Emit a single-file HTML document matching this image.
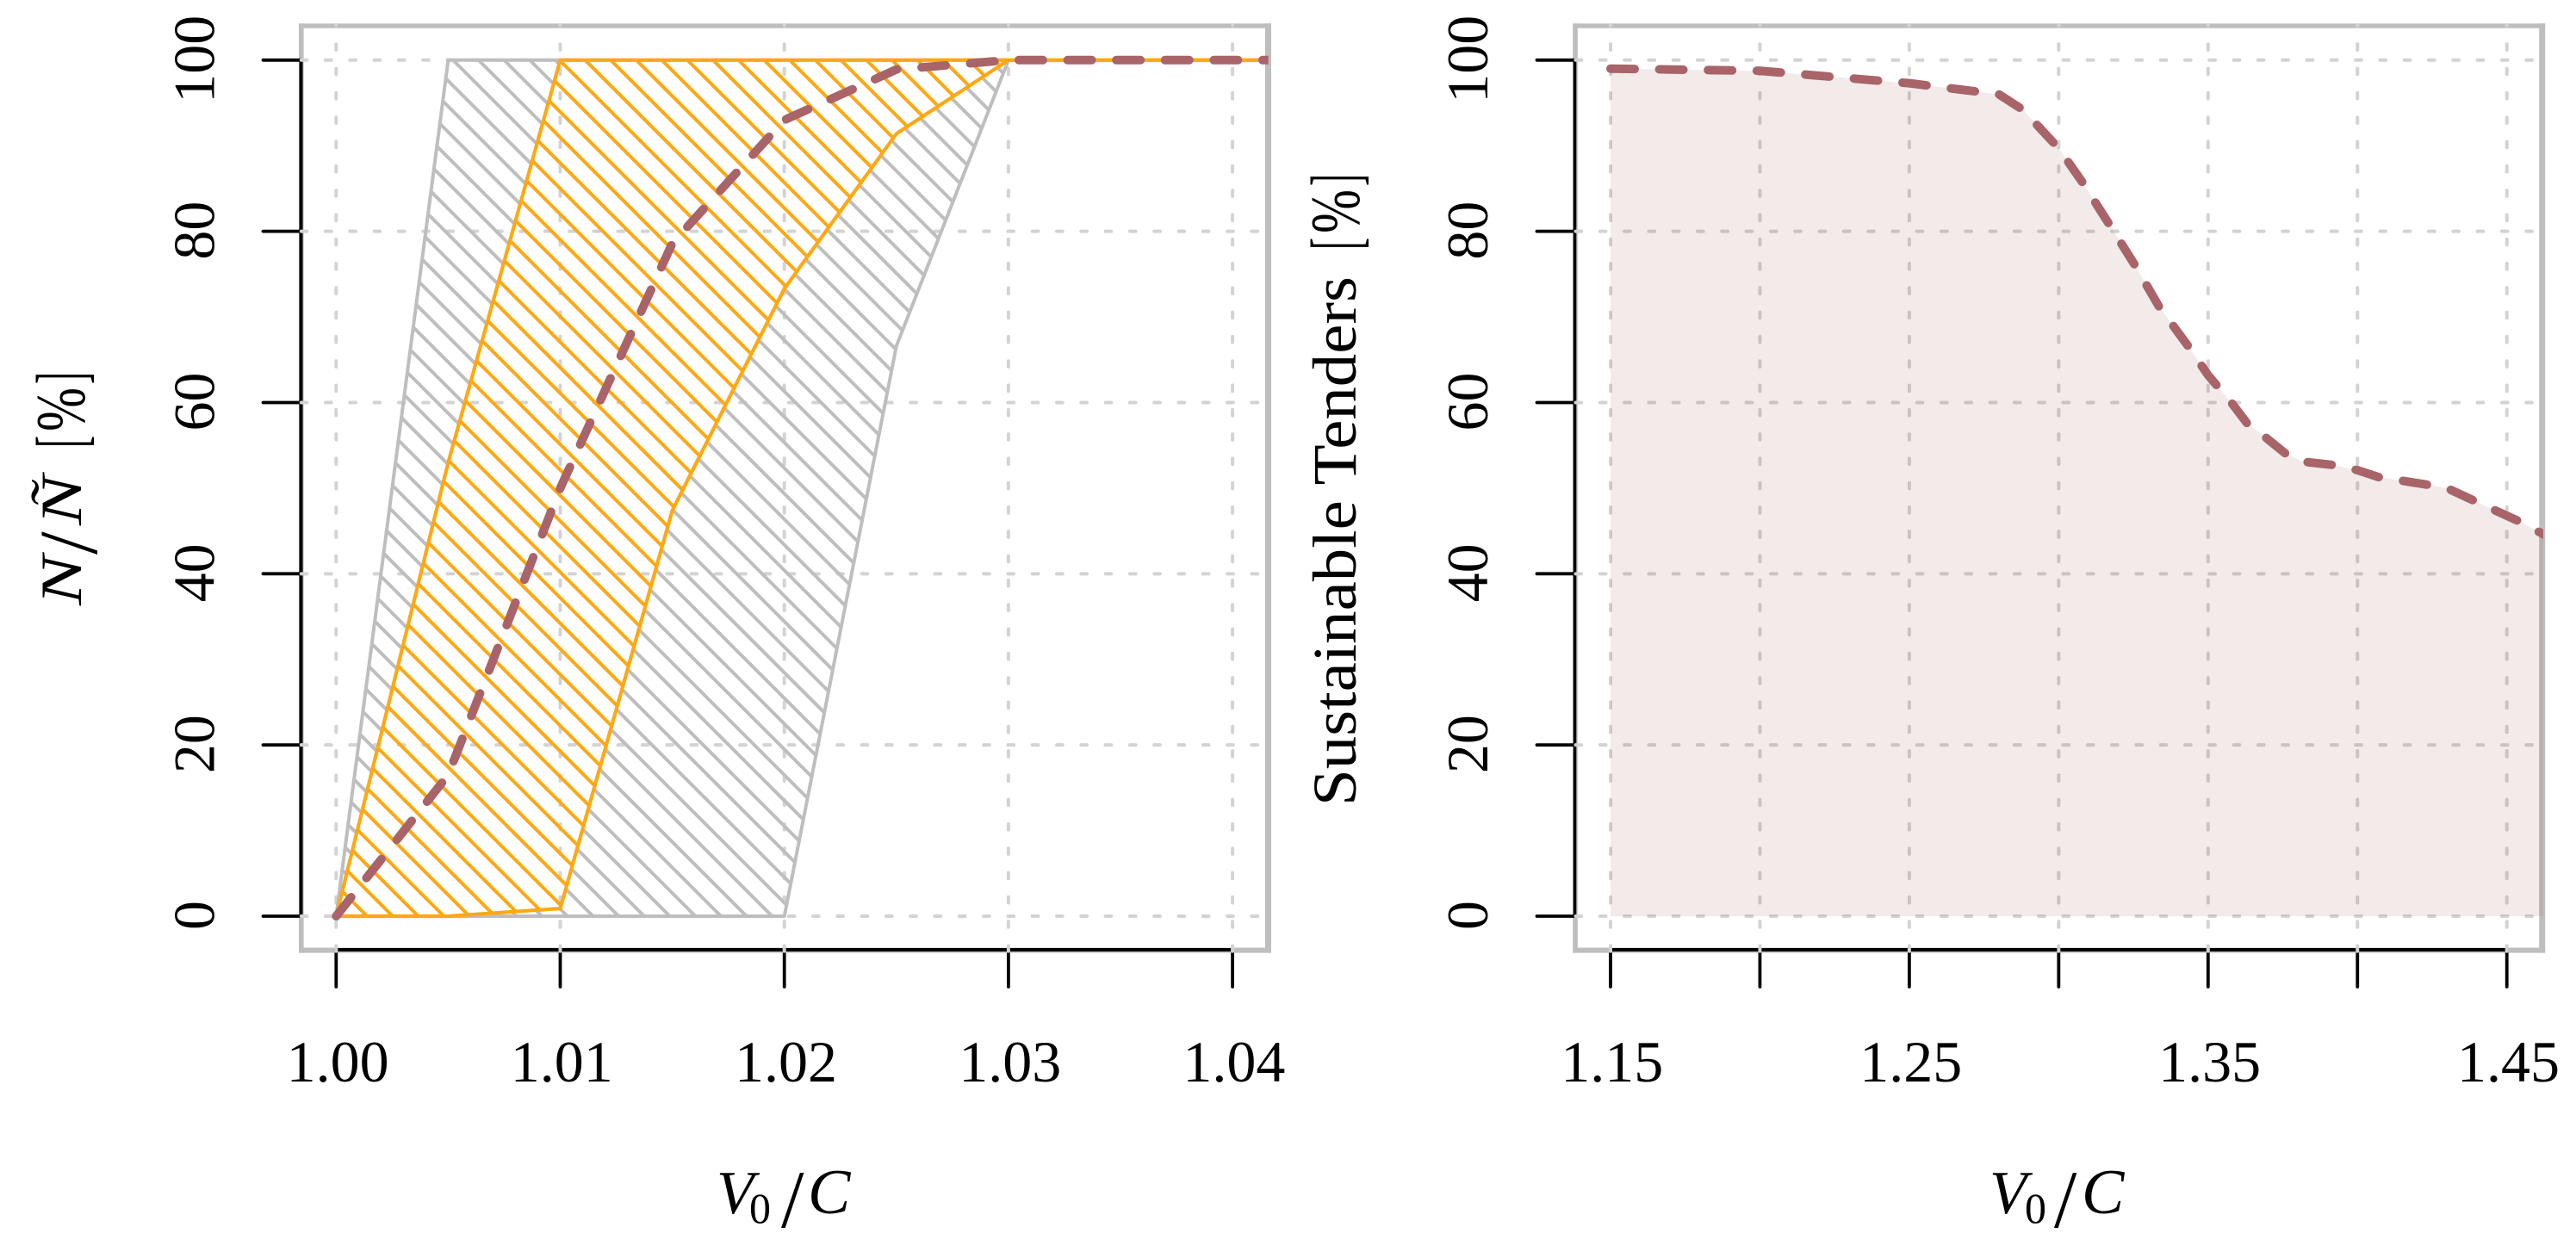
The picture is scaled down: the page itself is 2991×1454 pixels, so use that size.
<!DOCTYPE html>
<html lang="en">
<head>
<meta charset="utf-8">
<title>Sustainable tenders charts</title>
<style>
html,body{margin:0;padding:0;background:#fff;}
svg{display:block;}
text{font-family:"Liberation Serif",serif;fill:#000;}
</style>
</head>
<body>
<svg id="chart" xmlns="http://www.w3.org/2000/svg" width="2991" height="1454" viewBox="0 0 2991 1454">
  <rect x="0" y="0" width="2991" height="1454" fill="#fff"/>
  <defs id="defs"></defs>
  <g id="left-panel"></g>
  <g id="right-panel"></g>

  <g>
    <text x="832" y="1409" font-size="71" font-style="italic">V</text>
    <text x="870" y="1420" font-size="50">0</text>
    <text x="907" y="1425" font-size="95">/</text>
    <text x="938" y="1409" font-size="74" font-style="italic">C</text>
  </g>
  <g>
    <text x="2310" y="1409" font-size="71" font-style="italic">V</text>
    <text x="2351" y="1420" font-size="50">0</text>
    <text x="2385" y="1425" font-size="95">/</text>
    <text x="2417" y="1409" font-size="74" font-style="italic">C</text>
  </g>

  <g>
    <text transform="translate(94 703) rotate(-90)" font-size="68" font-style="italic" textLength="58" lengthAdjust="spacingAndGlyphs">N</text>
    <text transform="translate(112 644) rotate(-90)" font-size="96">/</text>
    <text transform="translate(94 610) rotate(-90)" font-size="68" font-style="italic" textLength="58" lengthAdjust="spacingAndGlyphs">Ñ</text>
    <text transform="translate(98 520) rotate(-90)" font-size="82" textLength="14" lengthAdjust="spacingAndGlyphs">[</text>
    <text transform="translate(98 501) rotate(-90)" font-size="82" textLength="51" lengthAdjust="spacingAndGlyphs">%</text>
    <text transform="translate(98 446) rotate(-90)" font-size="82" textLength="14" lengthAdjust="spacingAndGlyphs">]</text>
  </g>
  <g>
    <text transform="translate(1574 936) rotate(-90)" font-size="72" textLength="615" lengthAdjust="spacingAndGlyphs">Sustainable Tenders</text>
    <text transform="translate(1578 290) rotate(-90)" font-size="82" textLength="14" lengthAdjust="spacingAndGlyphs">[</text>
    <text transform="translate(1578 271) rotate(-90)" font-size="82" textLength="51" lengthAdjust="spacingAndGlyphs">%</text>
    <text transform="translate(1578 216) rotate(-90)" font-size="82" textLength="14" lengthAdjust="spacingAndGlyphs">]</text>
  </g>
</svg>

<script>
var yTicks = [0, 20, 40, 60, 80, 100];

var leftXTicks = [1.00, 1.01, 1.02, 1.03, 1.04];
var leftXLabels = ["1.00", "1.01", "1.02", "1.03", "1.04"];
var leftX = [1.00, 1.005, 1.01, 1.015, 1.02, 1.025, 1.03, 1.035, 1.04, 1.045];
var greyUpper = [0, 100, 100, 100, 100, 100, 100, 100, 100, 100];
var greyLower = [0, 0, 0, 0, 0, 66.6, 100, 100, 100, 100];
var orangeUpper = [0, 53, 100, 100, 100, 100, 100, 100, 100, 100];
var orangeLower = [0, 0, 0.9, 47.4, 73.3, 91.4, 100, 100, 100, 100];
var leftMedian = [0, 16.5, 50, 78.6, 93, 98.9, 100, 100, 100, 100];

var rightXTicks = [1.15, 1.20, 1.25, 1.30, 1.35, 1.40, 1.45];
var rightXLabels = ["1.15", "", "1.25", "", "1.35", "", "1.45"];
var rightX = [1.15, 1.20, 1.25, 1.28, 1.288, 1.30, 1.308, 1.3175, 1.3256, 1.3336, 1.3433, 1.35, 1.358, 1.363, 1.369, 1.3757, 1.3815, 1.392, 1.40, 1.407, 1.4235, 1.43, 1.438, 1.4536, 1.47];
var rightY = [99.0, 98.75, 97.3, 96.0, 94.2, 89.7, 85.7, 80.5, 76.0, 71.2, 66.6, 63.2, 59.9, 57.6, 56.0, 54.1, 53.1, 52.7, 52.1, 51.3, 50.4, 50.0, 48.7, 46.2, 43.2];

var NS = "http://www.w3.org/2000/svg";
var GREY = "#BEBEBE", GRID = "#D3D3D3", ORANGE = "#FFA812", MAROON = "#A86468";
var defs = document.getElementById("defs");

function yScale(v) { return 1064 - 9.942 * v; }
function leftXScale(v) { return 390.3 + 26020 * (v - 1); }
function rightXScale(v) { return 1870 + 3469 * (v - 1.15); }

function make(parent, tag, attrs) {
  var el = document.createElementNS(NS, tag);
  for (var k in attrs) { el.setAttribute(k, attrs[k]); }
  parent.appendChild(el);
  return el;
}
function pathThrough(xs, ys, xf) {
  return xs.map(function (x, i) { return (i ? "L" : "M") + xf(x).toFixed(2) + " " + yScale(ys[i]).toFixed(2); }).join(" ");
}
function bandPath(xs, up, lo, xf) {
  var d = pathThrough(xs, up, xf);
  for (var i = xs.length - 1; i >= 0; i--) { d += " L" + xf(xs[i]).toFixed(2) + " " + yScale(lo[i]).toFixed(2); }
  return d + " Z";
}
function addClipRect(id, x, y, w, h) {
  var c = make(defs, "clipPath", { id: id });
  make(c, "rect", { x: x, y: y, width: w, height: h });
}
function addClipPath(id, d) {
  var c = make(defs, "clipPath", { id: id });
  make(c, "path", { d: d });
}

function drawFrame(g, L, R) {
  var top = make(g, "rect", { x: L - 2.8, y: 27.3, width: R - L + 6.3, height: 5.4, fill: GREY });
  
  
  var bottom = make(g, "rect", { x: L - 2.8, y: 1100.6, width: R - L + 6.3, height: 6, fill: GREY });
  
  
  var left = make(g, "rect", { x: L - 2.8, y: 27.3, width: 5.6, height: 1079.3, fill: GREY });
  
  
  var right = make(g, "rect", { x: R - 3.5, y: 27.3, width: 7, height: 1079.3, fill: GREY });
  
  
}

function drawAxes(g, xs, labels, xf, axisX, axisW, yLabelX) {
  var common = { stroke: "#000", "stroke-linecap": "round", fill: "none" };
  function line(x1, y1, x2, y2, w) {
    var a = { x1: x1, y1: y1, x2: x2, y2: y2, "stroke-width": w };
    for (var k in common) { a[k] = common[k]; }
    return make(g, "line", a);
  }
  var xa = line(xf(xs[0]), 1103, xf(xs[xs.length - 1]), 1103, 4);
  
  
  var ya = line(axisX, yScale(0), axisX, yScale(100), axisW);
  
  
  xs.forEach(function (v, i) {
    var t = line(xf(v), 1103, xf(v), 1146, 3.8);
    
    
    if (labels[i]) {
      var lab = make(g, "text", { x: xf(v) + 1.8, y: 1256, "font-size": 68, "text-anchor": "middle" });
      lab.textContent = labels[i];
      
      
    }
  });
  yTicks.forEach(function (v) {
    var t = line(axisX - 44, yScale(v), axisX, yScale(v), 3.8);
    
    
    var lab = make(g, "text", { "font-size": 68, "text-anchor": "middle", transform: "translate(" + yLabelX + " " + (yScale(v) - 1) + ") rotate(-90)" });
    lab.textContent = String(v);
    
    
  });
}

function drawGrid(g, xs, xf, hStart, R) {
  var attrs = { stroke: GRID, "stroke-width": 4, "stroke-linecap": "round", "stroke-dasharray": "6.7 21.6", fill: "none" };
  xs.forEach(function (v) {
    var a = { x1: xf(v), x2: xf(v), y1: 23, y2: 1107 };
    for (var k in attrs) { a[k] = attrs[k]; }
    var l = make(g, "line", a);
    
    
  });
  yTicks.forEach(function (v) {
    var a = { x1: hStart, x2: R, y1: yScale(v), y2: yScale(v) };
    for (var k in attrs) { a[k] = attrs[k]; }
    var l = make(g, "line", a);
    
    
  });
}

function drawHatch(g, color, phase) {
  for (var k = -50; k <= 40; k++) {
    var x0 = phase + 29.7 * k;
    var l = make(g, "line", { x1: x0, y1: yScale(100), x2: x0 + 1000, y2: yScale(100) + 1000, stroke: color, "stroke-width": 4 });
    
    
  }
}

/* ---------- left panel ---------- */
(function () {
  var panel = document.getElementById("left-panel");
  var L = 349.8, R = 1472.5;
  drawFrame(panel, L, R);
  drawAxes(panel, leftXTicks, leftXLabels, leftXScale, 349.5, 4, 248.5);

  addClipRect("left-grid-clip", L - 2, 27.5, R - L + 5, 1079);
  addClipRect("left-plot-clip", L, 0, R - L + 0.2, 1454);
  var greyD = bandPath(leftX, greyUpper, greyLower, leftXScale);
  var orangeD = bandPath(leftX, orangeUpper, orangeLower, leftXScale);
  addClipPath("grey-band-clip", greyD);
  addClipPath("orange-band-clip", orangeD);

  var grid = make(panel, "g", { "clip-path": "url(#left-grid-clip)" });
  
  
  drawGrid(grid, leftXTicks, leftXScale, 349.7, R);

  var plot = make(panel, "g", { "clip-path": "url(#left-plot-clip)" });
  
  

  var gh = make(plot, "g", { "clip-path": "url(#grey-band-clip)" });
  
  
  drawHatch(gh, GREY, 526);

  var gb = make(plot, "path", { d: greyD, fill: "none", stroke: GREY, "stroke-width": 4, "stroke-linejoin": "round" });
  
  

  var ow = make(plot, "path", { d: orangeD, fill: "#fff" });
  
  

  var og = make(plot, "g", { "clip-path": "url(#orange-band-clip)" });
  
  
  drawGrid(og, leftXTicks, leftXScale, 349.7, R);

  var oh = make(plot, "g", { "clip-path": "url(#orange-band-clip)" });
  
  
  drawHatch(oh, ORANGE, 649.7);

  var ob = make(plot, "path", { d: orangeD, fill: "none", stroke: ORANGE, "stroke-width": 4.2, "stroke-linejoin": "round" });
  
  

  var m = make(plot, "path", { d: pathThrough(leftX, leftMedian, leftXScale), fill: "none", stroke: MAROON, "stroke-width": 10, "stroke-linecap": "round", "stroke-linejoin": "round", "stroke-dasharray": "28 28.6" });
  
  
})();

/* ---------- right panel ---------- */
(function () {
  var panel = document.getElementById("right-panel");
  var L = 1829, R = 2951.7;
  drawFrame(panel, L, R);
  drawAxes(panel, rightXTicks, rightXLabels, rightXScale, 1828.5, 3.6, 1727);

  addClipRect("right-grid-clip", L - 2, 27.5, R - L + 5, 1079);
  addClipRect("right-plot-clip", L, 0, R - L + 1.2, 1454);

  var grid = make(panel, "g", { "clip-path": "url(#right-grid-clip)" });
  
  
  drawGrid(grid, rightXTicks, rightXScale, 1829.5, R);

  var plot = make(panel, "g", { "clip-path": "url(#right-plot-clip)" });
  
  

  var zeros = rightX.map(function () { return 0; });
  var area = make(plot, "path", { d: bandPath(rightX, rightY, zeros, rightXScale), fill: "#8B3A3A", "fill-opacity": 0.105 });
  
  

  var m = make(plot, "path", { d: pathThrough(rightX, rightY, rightXScale), fill: "none", stroke: MAROON, "stroke-width": 10, "stroke-linecap": "round", "stroke-linejoin": "round", "stroke-dasharray": "28 28.6" });
  
  
})();
</script>
</body>
</html>
